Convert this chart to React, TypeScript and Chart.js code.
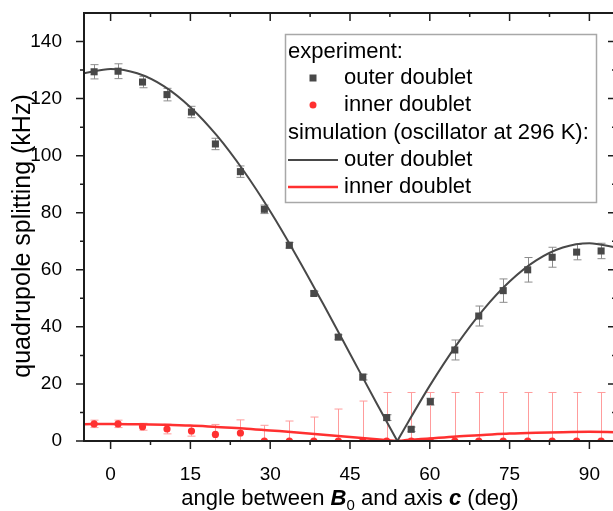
import React, { useEffect, useRef } from 'react';
import { Chart, registerables } from 'chart.js';
Chart.register(...registerables);

// experimental angles (deg)
const expAngles = [-3.1, 1.4, 6.0, 10.6, 15.2, 19.7, 24.4, 28.9, 33.6, 38.2, 42.8, 47.4, 51.9, 56.5, 60.1, 64.7, 69.2, 73.8, 78.4, 83.0, 87.6, 92.2];
// experiment: outer doublet (kHz) and errors
const outerExp = [129.4, 129.6, 125.8, 121.4, 115.3, 104.1, 94.4, 81.2, 68.6, 51.7, 36.4, 22.4, 8.2, 4.1, 13.8, 31.9, 43.8, 52.7, 60.0, 64.4, 66.2, 66.6];
const outerErr = [2.5, 2.6, 2.0, 2.2, 2.0, 2.0, 2.0, 1.5, 1.0, 0.8, 0.8, 1.0, 1.0, 0.8, 1.2, 3.5, 3.5, 4.1, 4.3, 3.5, 2.7, 2.7];
// experiment: inner doublet (kHz) and errors
const innerExp = [6.0, 6.0, 5.0, 4.2, 3.5, 2.3, 2.8, 0, 0, 0, 0, 0, 0, 0, 0, 0, 0, 0, 0, 0, 0, 0];
const innerErr = [1.3, 1.3, 1.2, 1.7, 1.8, 3.5, 4.6, 5.5, 7.0, 8.4, 11.2, 14.0, 17.0, 17.0, 17.0, 17.0, 17.0, 17.0, 17.0, 17.0, 17.0, 17.0];
// simulation curves
const simAngles = [-5, 0, 5, 10, 15, 20, 25, 30, 35, 40, 45, 50, 53.9, 55, 60, 65, 70, 75, 80, 85, 90, 95];
const simOuter = [128.9, 130.4, 128.9, 124.4, 117.0, 107.0, 94.7, 80.5, 64.7, 47.9, 30.6, 13.2, 0, 3.6, 19.4, 33.6, 45.9, 55.9, 63.3, 67.8, 69.3, 67.8];
const simInner = [5.9, 6.0, 5.9, 5.7, 5.4, 4.9, 4.4, 3.7, 3.0, 2.2, 1.4, 0.6, 0, 0.2, 0.9, 1.6, 2.1, 2.6, 2.9, 3.1, 3.2, 3.1];
const simSplitAngle = 53.9;

// axes
const xTickValues = [0, 15, 30, 45, 60, 75, 90];
const yTickValues = [0, 20, 40, 60, 80, 100, 120, 140];
const xRange = [-5, 95];
const yRange = [0, 150];

const legendHeaders = ['experiment:', 'simulation (oscillator at 296 K):'];
const legendItems = ['outer doublet', 'inner doublet'];
const yTitle = 'quadrupole splitting (kHz)';

const FONT = '"Liberation Sans", Arial, sans-serif';
const GREY = '#484848';
const RED = '#ff3030';

const toXY = (xs: number[], ys: number[]) => xs.map((x, i) => ({ x, y: ys[i] }));

const overlay = {
  id: 'overlay',
  beforeDatasetsDraw(chart: any) {
    const { ctx, chartArea: a, scales } = chart;
    const xs = scales.x, ys = scales.y;
    ctx.save();
    ctx.beginPath();
    ctx.rect(a.left, a.top, a.right - a.left, a.bottom - a.top);
    ctx.clip();
    const drawErr = (vals: number[], errs: number[], color: string) => {
      ctx.strokeStyle = color;
      ctx.lineWidth = 1;
      expAngles.forEach((ang, i) => {
        const px = Math.round(xs.getPixelForValue(ang)) + 0.5;
        const y1 = ys.getPixelForValue(vals[i] + errs[i]);
        const y2 = ys.getPixelForValue(vals[i] - errs[i]);
        ctx.beginPath();
        ctx.moveTo(px, y1); ctx.lineTo(px, y2);
        ctx.moveTo(px - 4, y1); ctx.lineTo(px + 4, y1);
        ctx.moveTo(px - 4, y2); ctx.lineTo(px + 4, y2);
        ctx.stroke();
      });
    };
    drawErr(outerExp, outerErr, '#8c8c8c');
    drawErr(innerExp, innerErr, '#ff9c9c');
    ctx.restore();
  },
  afterDraw(chart: any) {
    const { ctx, chartArea: a, scales } = chart;
    const xs = scales.x, ys = scales.y;
    ctx.save();
    // frame
    ctx.strokeStyle = '#1c1c1c';
    ctx.lineWidth = 2;
    ctx.strokeRect(a.left, a.top, a.right - a.left, a.bottom - a.top);
    // ticks
    const major = 8, minor = 4;
    ctx.lineWidth = 1.5;
    ctx.beginPath();
    const xMinor: number[] = [];
    for (let i = 0; i < xTickValues.length - 1; i++) xMinor.push((xTickValues[i] + xTickValues[i + 1]) / 2);
    const yMinor: number[] = [];
    const step = yTickValues[1] - yTickValues[0];
    for (let i = 0; i < yTickValues.length; i++) {
      const m = yTickValues[i] + step / 2;
      if (m < yRange[1]) yMinor.push(m);
    }
    xTickValues.forEach(v => {
      const p = xs.getPixelForValue(v);
      ctx.moveTo(p, a.bottom); ctx.lineTo(p, a.bottom + major);
      ctx.moveTo(p, a.top); ctx.lineTo(p, a.top + major);
    });
    xMinor.forEach(v => {
      const p = xs.getPixelForValue(v);
      ctx.moveTo(p, a.bottom); ctx.lineTo(p, a.bottom + minor);
      ctx.moveTo(p, a.top); ctx.lineTo(p, a.top + minor);
    });
    yTickValues.forEach(v => {
      const p = ys.getPixelForValue(v);
      ctx.moveTo(a.left, p); ctx.lineTo(a.left - major, p);
      ctx.moveTo(a.right, p); ctx.lineTo(a.right - major, p);
    });
    yMinor.forEach(v => {
      const p = ys.getPixelForValue(v);
      ctx.moveTo(a.left, p); ctx.lineTo(a.left - minor, p);
      ctx.moveTo(a.right, p); ctx.lineTo(a.right - minor, p);
    });
    ctx.stroke();

    // y title
    ctx.fillStyle = '#000';
    ctx.font = `25px ${FONT}`;
    ctx.save();
    ctx.translate(23, 236);
    ctx.rotate(-Math.PI / 2);
    ctx.textAlign = 'center';
    ctx.textBaseline = 'middle';
    ctx.fillText(yTitle, 0, 0);
    ctx.restore();

    // x title with rich text
    const segs = [
      { t: 'angle between ', f: `22px ${FONT}`, dy: 0 },
      { t: 'B', f: `italic bold 22px ${FONT}`, dy: 0 },
      { t: '0', f: `15px ${FONT}`, dy: 5 },
      { t: ' and axis ', f: `22px ${FONT}`, dy: 0 },
      { t: 'c', f: `italic bold 22px ${FONT}`, dy: 0 },
      { t: ' (deg)', f: `22px ${FONT}`, dy: 0 },
    ];
    let total = 0;
    segs.forEach(s => { ctx.font = s.f; total += ctx.measureText(s.t).width; });
    let cx = 350 - total / 2;
    ctx.textAlign = 'left';
    ctx.textBaseline = 'alphabetic';
    segs.forEach(s => {
      ctx.font = s.f;
      ctx.fillText(s.t, cx, 505 + s.dy);
      cx += ctx.measureText(s.t).width;
    });

    // legend
    const bx = 285, by = 34, bw = 311, bh = 168;
    ctx.fillStyle = '#fff';
    ctx.fillRect(bx, by, bw, bh);
    ctx.strokeStyle = '#a8a8a8';
    ctx.lineWidth = 1.5;
    ctx.strokeRect(bx + 0.5, by + 0.5, bw, bh);
    const rows = [52, 78, 105, 133, 160, 187];
    ctx.fillStyle = '#000';
    ctx.font = `22px ${FONT}`;
    ctx.textBaseline = 'middle';
    ctx.fillText(legendHeaders[0], 288, rows[0]);
    ctx.fillText(legendItems[0], 344, rows[1]);
    ctx.fillText(legendItems[1], 344, rows[2]);
    ctx.fillText(legendHeaders[1], 288, rows[3]);
    ctx.fillText(legendItems[0], 344, rows[4]);
    ctx.fillText(legendItems[1], 344, rows[5]);
    ctx.fillStyle = GREY;
    ctx.fillRect(313 - 3.5, rows[1] - 3.5, 7, 7);
    ctx.fillStyle = RED;
    ctx.beginPath();
    ctx.arc(313, rows[2], 3.5, 0, Math.PI * 2);
    ctx.fill();
    ctx.lineWidth = 2;
    ctx.strokeStyle = GREY;
    ctx.beginPath(); ctx.moveTo(288, rows[4]); ctx.lineTo(338, rows[4]); ctx.stroke();
    ctx.lineWidth = 2.5;
    ctx.strokeStyle = RED;
    ctx.beginPath(); ctx.moveTo(288, rows[5]); ctx.lineTo(338, rows[5]); ctx.stroke();
    ctx.restore();
  },
};

export default function App() {
  const ref = useRef<HTMLCanvasElement | null>(null);
  useEffect(() => {
    if (!ref.current) return;
    const k = simAngles.indexOf(simSplitAngle);
    const simOuterPts = toXY(simAngles, simOuter);
    const simInnerPts = toXY(simAngles, simInner);
    const lineDs = (data: any[], color: string, w: number) => ({
      type: 'line' as const,
      data,
      borderColor: color,
      borderWidth: w,
      pointRadius: 0,
      cubicInterpolationMode: 'monotone' as const,
      fill: false,
      order: 2,
    });
    const chart = new Chart(ref.current, {
      type: 'scatter',
      data: {
        datasets: [
          { type: 'scatter', data: toXY(expAngles, outerExp), pointStyle: 'rect', pointRadius: 5, backgroundColor: GREY, borderWidth: 0, order: 0 } as any,
          { type: 'scatter', data: toXY(expAngles, innerExp), pointStyle: 'circle', pointRadius: 3.6, backgroundColor: RED, borderWidth: 0, order: 0, clip: 0 } as any,
          lineDs(simOuterPts.slice(0, k + 1), GREY, 2),
          lineDs(simOuterPts.slice(k), GREY, 2),
          lineDs(simInnerPts.slice(0, k + 1), RED, 2.5),
          lineDs(simInnerPts.slice(k), RED, 2.5),
        ],
      },
      options: {
        animation: false,
        responsive: false,
        devicePixelRatio: 1,
        layout: { padding: { top: 13, right: 14, left: 0, bottom: 0 } },
        plugins: { legend: { display: false }, tooltip: { enabled: false } },
        font: { family: FONT },
        scales: {
          x: {
            type: 'linear',
            min: xRange[0],
            max: xRange[1],
            grid: { display: false },
            border: { display: false },
            afterBuildTicks: (s: any) => { s.ticks = xTickValues.map(v => ({ value: v })); },
            afterFit: (s: any) => { s.height = 70; s.paddingLeft = 0; s.paddingRight = 0; },
            ticks: { color: '#000', font: { family: FONT, size: 19 }, padding: 14, maxRotation: 0, autoSkip: false },
          },
          y: {
            type: 'linear',
            min: yRange[0],
            max: yRange[1],
            grid: { display: false },
            border: { display: false },
            afterBuildTicks: (s: any) => { s.ticks = yTickValues.map(v => ({ value: v })); },
            afterFit: (s: any) => { s.width = 84; s.paddingTop = 0; s.paddingBottom = 0; },
            ticks: { color: '#000', font: { family: FONT, size: 19 }, padding: 14, autoSkip: false },
          },
        },
      } as any,
      plugins: [overlay],
    });
    return () => chart.destroy();
  }, []);
  return (
    <div style={{ position: 'fixed', left: 0, top: 0, width: 613, height: 511, overflow: 'hidden', background: '#fff' }}>
      <canvas ref={ref} width={630} height={511} style={{ display: 'block', width: 630, height: 511 }} />
    </div>
  );
}
